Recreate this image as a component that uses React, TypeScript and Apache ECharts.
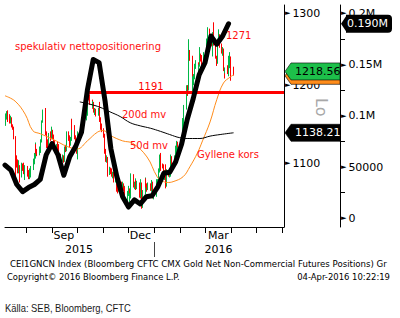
import React, { useEffect, useRef } from 'react';
import * as echarts from 'echarts';

// Gold spot daily OHLC: [date, open, close, low, high]
const candles: [string, number, number, number, number][] = [
  ['2015-07-08', 1154, 1159, 1147, 1163], ['2015-07-09', 1159, 1161, 1155, 1166], ['2015-07-10', 1161, 1157, 1152, 1167],
  ['2015-07-13', 1157, 1155, 1150, 1162], ['2015-07-14', 1155, 1155, 1150, 1160], ['2015-07-15', 1155, 1147, 1145, 1158],
  ['2015-07-16', 1147, 1144, 1142, 1149], ['2015-07-17', 1144, 1132, 1130, 1146], ['2015-07-20', 1132, 1107, 1081, 1134],
  ['2015-07-21', 1107, 1103, 1095, 1110], ['2015-07-22', 1103, 1092, 1088, 1105], ['2015-07-23', 1092, 1093, 1088, 1104],
  ['2015-07-24', 1093, 1085, 1077, 1098], ['2015-07-27', 1085, 1097, 1083, 1101], ['2015-07-28', 1097, 1096, 1091, 1100],
  ['2015-07-29', 1096, 1095, 1087, 1101], ['2015-07-30', 1095, 1088, 1084, 1097], ['2015-07-31', 1088, 1095, 1080, 1098],
  ['2015-08-03', 1095, 1086, 1084, 1097], ['2015-08-04', 1086, 1085, 1081, 1092], ['2015-08-05', 1085, 1086, 1081, 1090],
  ['2015-08-06', 1086, 1090, 1083, 1094], ['2015-08-07', 1090, 1094, 1083, 1097], ['2015-08-10', 1094, 1104, 1092, 1106],
  ['2015-08-11', 1104, 1108, 1099, 1113], ['2015-08-12', 1108, 1123, 1106, 1126], ['2015-08-13', 1123, 1115, 1112, 1124],
  ['2015-08-14', 1115, 1113, 1109, 1118], ['2015-08-17', 1113, 1117, 1110, 1121], ['2015-08-18', 1117, 1117, 1113, 1122],
  ['2015-08-19', 1117, 1127, 1115, 1130], ['2015-08-20', 1127, 1153, 1126, 1154], ['2015-08-21', 1153, 1160, 1151, 1168],
  ['2015-08-24', 1160, 1153, 1150, 1170], ['2015-08-25', 1153, 1138, 1135, 1156], ['2015-08-26', 1138, 1125, 1119, 1140],
  ['2015-08-27', 1125, 1124, 1118, 1130], ['2015-08-28', 1124, 1134, 1122, 1138], ['2015-08-31', 1134, 1132, 1128, 1140],
  ['2015-09-01', 1132, 1140, 1130, 1146], ['2015-09-02', 1140, 1134, 1130, 1142], ['2015-09-03', 1134, 1125, 1122, 1136],
  ['2015-09-04', 1125, 1121, 1117, 1129], ['2015-09-07', 1121, 1121, 1118, 1124], ['2015-09-08', 1121, 1120, 1117, 1127],
  ['2015-09-09', 1120, 1105, 1102, 1124], ['2015-09-10', 1105, 1109, 1098, 1111], ['2015-09-11', 1109, 1104, 1102, 1112],
  ['2015-09-14', 1104, 1108, 1102, 1111], ['2015-09-15', 1108, 1103, 1101, 1110], ['2015-09-16', 1103, 1119, 1102, 1121],
  ['2015-09-17', 1119, 1117, 1114, 1123], ['2015-09-18', 1117, 1137, 1115, 1140], ['2015-09-21', 1137, 1133, 1128, 1140],
  ['2015-09-22', 1133, 1124, 1120, 1135], ['2015-09-23', 1124, 1131, 1122, 1133], ['2015-09-24', 1131, 1153, 1128, 1156],
  ['2015-09-25', 1153, 1145, 1142, 1156], ['2015-09-28', 1145, 1132, 1130, 1148], ['2015-09-29', 1132, 1127, 1124, 1135],
  ['2015-09-30', 1127, 1115, 1112, 1130], ['2015-10-01', 1115, 1113, 1109, 1120], ['2015-10-02', 1113, 1137, 1105, 1140],
  ['2015-10-05', 1137, 1137, 1132, 1141], ['2015-10-06', 1137, 1146, 1134, 1149], ['2015-10-07', 1146, 1146, 1142, 1150],
  ['2015-10-08', 1146, 1143, 1138, 1150], ['2015-10-09', 1143, 1156, 1141, 1160], ['2015-10-12', 1156, 1163, 1154, 1166],
  ['2015-10-13', 1163, 1167, 1160, 1170], ['2015-10-14', 1167, 1187, 1165, 1189], ['2015-10-15', 1187, 1186, 1180, 1191],
  ['2015-10-16', 1186, 1177, 1174, 1188], ['2015-10-19', 1177, 1172, 1169, 1181], ['2015-10-20', 1172, 1176, 1170, 1179],
  ['2015-10-21', 1176, 1166, 1164, 1178], ['2015-10-22', 1166, 1166, 1161, 1170], ['2015-10-23', 1166, 1162, 1159, 1169],
  ['2015-10-26', 1162, 1164, 1160, 1168], ['2015-10-27', 1164, 1167, 1161, 1170], ['2015-10-28', 1167, 1155, 1152, 1178],
  ['2015-10-29', 1155, 1146, 1142, 1158], ['2015-10-30', 1146, 1142, 1139, 1150], ['2015-11-02', 1142, 1135, 1132, 1144],
  ['2015-11-03', 1135, 1115, 1112, 1137], ['2015-11-04', 1115, 1104, 1102, 1118], ['2015-11-05', 1104, 1105, 1101, 1110],
  ['2015-11-06', 1105, 1088, 1084, 1108], ['2015-11-09', 1088, 1093, 1086, 1096], ['2015-11-10', 1093, 1092, 1087, 1095],
  ['2015-11-11', 1092, 1086, 1084, 1094], ['2015-11-12', 1086, 1086, 1082, 1090], ['2015-11-13', 1086, 1081, 1077, 1090],
  ['2015-11-16', 1081, 1086, 1077, 1089], ['2015-11-17', 1086, 1069, 1066, 1087], ['2015-11-18', 1069, 1068, 1064, 1073],
  ['2015-11-19', 1068, 1078, 1066, 1081], ['2015-11-20', 1078, 1076, 1072, 1080], ['2015-11-23', 1076, 1067, 1063, 1078],
  ['2015-11-24', 1067, 1073, 1065, 1078], ['2015-11-25', 1073, 1070, 1067, 1076], ['2015-11-26', 1070, 1071, 1068, 1073],
  ['2015-11-27', 1071, 1056, 1052, 1072], ['2015-11-30', 1056, 1065, 1051, 1067], ['2015-12-01', 1065, 1068, 1061, 1073],
  ['2015-12-02', 1068, 1053, 1050, 1070], ['2015-12-03', 1053, 1062, 1046, 1064], ['2015-12-04', 1062, 1086, 1058, 1088],
  ['2015-12-07', 1086, 1074, 1071, 1087], ['2015-12-08', 1074, 1075, 1069, 1078], ['2015-12-09', 1075, 1076, 1071, 1082],
  ['2015-12-10', 1076, 1071, 1068, 1080], ['2015-12-11', 1071, 1075, 1069, 1079], ['2015-12-14', 1075, 1062, 1059, 1077],
  ['2015-12-15', 1062, 1061, 1058, 1068], ['2015-12-16', 1061, 1076, 1059, 1081], ['2015-12-17', 1076, 1049, 1046, 1077],
  ['2015-12-18', 1049, 1065, 1047, 1068], ['2015-12-21', 1065, 1080, 1063, 1083], ['2015-12-22', 1080, 1075, 1071, 1082],
  ['2015-12-23', 1075, 1069, 1066, 1076], ['2015-12-24', 1069, 1075, 1068, 1077], ['2015-12-28', 1075, 1069, 1067, 1076],
  ['2015-12-29', 1069, 1077, 1066, 1080], ['2015-12-30', 1077, 1060, 1058, 1078], ['2015-12-31', 1060, 1061, 1057, 1064],
  ['2016-01-04', 1061, 1075, 1060, 1081], ['2016-01-05', 1075, 1078, 1071, 1081], ['2016-01-06', 1078, 1092, 1076, 1094],
  ['2016-01-07', 1092, 1108, 1089, 1111], ['2016-01-08', 1108, 1097, 1091, 1113], ['2016-01-11', 1097, 1096, 1094, 1100],
  ['2016-01-12', 1096, 1086, 1084, 1099], ['2016-01-13', 1086, 1087, 1080, 1092], ['2016-01-14', 1087, 1073, 1070, 1099],
  ['2016-01-15', 1073, 1089, 1072, 1093], ['2016-01-18', 1089, 1088, 1084, 1092], ['2016-01-19', 1088, 1089, 1083, 1092],
  ['2016-01-20', 1089, 1106, 1084, 1111], ['2016-01-21', 1106, 1098, 1095, 1109], ['2016-01-22', 1098, 1097, 1093, 1102],
  ['2016-01-25', 1097, 1108, 1095, 1110], ['2016-01-26', 1108, 1120, 1104, 1122], ['2016-01-27', 1120, 1126, 1113, 1128],
  ['2016-01-28', 1126, 1115, 1112, 1127], ['2016-01-29', 1115, 1117, 1108, 1120], ['2016-02-01', 1117, 1128, 1113, 1130],
  ['2016-02-02', 1128, 1128, 1123, 1131], ['2016-02-03', 1128, 1141, 1125, 1147], ['2016-02-04', 1141, 1156, 1139, 1157],
  ['2016-02-05', 1156, 1173, 1146, 1174], ['2016-02-08', 1173, 1197, 1168, 1200], ['2016-02-09', 1197, 1198, 1186, 1200],
  ['2016-02-10', 1198, 1194, 1186, 1200], ['2016-02-11', 1194, 1247, 1193, 1263], ['2016-02-12', 1247, 1239, 1233, 1248],
  ['2016-02-15', 1239, 1208, 1205, 1240], ['2016-02-16', 1208, 1208, 1192, 1212], ['2016-02-17', 1208, 1211, 1200, 1215],
  ['2016-02-18', 1211, 1226, 1208, 1229], ['2016-02-19', 1226, 1230, 1222, 1234], ['2016-02-22', 1230, 1210, 1205, 1231],
  ['2016-02-23', 1210, 1227, 1207, 1228], ['2016-02-24', 1227, 1238, 1225, 1252], ['2016-02-25', 1238, 1236, 1232, 1243],
  ['2016-02-26', 1236, 1222, 1216, 1241], ['2016-02-29', 1222, 1238, 1221, 1245], ['2016-03-01', 1238, 1231, 1227, 1241],
  ['2016-03-02', 1231, 1241, 1229, 1246], ['2016-03-03', 1241, 1262, 1239, 1264], ['2016-03-04', 1262, 1271, 1256, 1280],
  ['2016-03-07', 1271, 1266, 1262, 1278], ['2016-03-08', 1266, 1263, 1255, 1270], ['2016-03-09', 1263, 1257, 1253, 1266],
  ['2016-03-10', 1257, 1272, 1239, 1273], ['2016-03-11', 1272, 1259, 1254, 1287], ['2016-03-14', 1259, 1238, 1236, 1262],
  ['2016-03-15', 1238, 1233, 1226, 1240], ['2016-03-16', 1233, 1263, 1229, 1264], ['2016-03-17', 1263, 1265, 1259, 1277],
  ['2016-03-18', 1265, 1255, 1251, 1270], ['2016-03-21', 1255, 1245, 1243, 1257], ['2016-03-22', 1245, 1248, 1240, 1252],
  ['2016-03-23', 1248, 1221, 1219, 1250], ['2016-03-24', 1221, 1220, 1209, 1223], ['2016-03-25', 1220, 1222, 1216, 1224],
  ['2016-03-28', 1222, 1220, 1215, 1227], ['2016-03-29', 1220, 1236, 1212, 1240], ['2016-03-30', 1236, 1228, 1225, 1240],
  ['2016-03-31', 1228, 1235, 1223, 1245], ['2016-04-01', 1235, 1222, 1206, 1239], ['2016-04-04', 1222, 1218.56, 1213, 1225],
];

// CFTC net non-commercial positions (weekly)
const positionDates = [
  '2015-07-07', '2015-07-14', '2015-07-21', '2015-07-28', '2015-08-04', '2015-08-11', '2015-08-18', '2015-08-25',
  '2015-09-01', '2015-09-08', '2015-09-15', '2015-09-22', '2015-09-29', '2015-10-06', '2015-10-13', '2015-10-20',
  '2015-10-27', '2015-11-03', '2015-11-10', '2015-11-17', '2015-11-24', '2015-12-01', '2015-12-08', '2015-12-15',
  '2015-12-22', '2015-12-29', '2016-01-05', '2016-01-12', '2016-01-19', '2016-01-26', '2016-02-02', '2016-02-09',
  '2016-02-16', '2016-02-23', '2016-03-01', '2016-03-08', '2016-03-15', '2016-03-22', '2016-03-29',
];
const positionValues = [
  52000, 47000, 33000, 26000, 30000, 33000, 38000, 62000,
  73000, 62000, 42000, 60000, 70000, 84000, 125000, 155000,
  152000, 115000, 68000, 41000, 21000, 11000, 18000, 14000,
  21000, 22000, 31000, 44000, 45000, 55000, 72000, 97000,
  117000, 140000, 152000, 178000, 170000, 178000, 190000,
];

// 50-day moving average
const ma50Dates = [
  '2015-07-07', '2015-07-19', '2015-07-31', '2015-08-09', '2015-08-18', '2015-09-02', '2015-09-19', '2015-10-01',
  '2015-10-13', '2015-10-25', '2015-11-01', '2015-11-09', '2015-11-24', '2015-12-06', '2015-12-23', '2016-01-04',
  '2016-01-10', '2016-01-16', '2016-01-23', '2016-02-04', '2016-02-12', '2016-02-21', '2016-02-27', '2016-03-07',
  '2016-03-15', '2016-03-23', '2016-03-31', '2016-04-04',
];
const ma50Values = [
  1186, 1179, 1162, 1141, 1137, 1130, 1121, 1118,
  1128, 1139, 1141, 1135, 1128, 1125, 1108, 1084,
  1079, 1077, 1078, 1084, 1096, 1113, 1128, 1152,
  1181, 1203, 1211, 1214,
];

// 200-day moving average
const ma200Dates = [
  '2015-10-04', '2015-10-16', '2015-10-28', '2015-11-09', '2015-11-21', '2015-12-03', '2015-12-15', '2015-12-27',
  '2016-01-08', '2016-01-19', '2016-01-31', '2016-02-12', '2016-02-24', '2016-03-07', '2016-03-19', '2016-04-04',
];
const ma200Values = [
  1178, 1175, 1171, 1165, 1159, 1151, 1147, 1144,
  1140, 1136, 1132, 1131, 1131, 1134, 1136, 1138.21,
];

const priceTicks = [1100, 1200, 1300];
const positionTicks = [0, 50000, 100000, 150000, 200000];
const positionMinorTicks = [25000, 75000, 125000, 175000];
const monthTickDates = [
  '2015-08-01', '2015-09-01', '2015-10-01', '2015-11-01', '2015-12-01', '2016-01-01',
  '2016-02-01', '2016-03-01', '2016-04-01', '2016-05-01', '2016-06-01',
];
const monthLabelDates = ['2015-09-15', '2015-12-15', '2016-03-17'];
const monthLabelTexts = ['Sep', 'Dec', 'Mar'];
const yearLabelDates = ['2015-10-03', '2016-03-17'];
const yearLabelTexts = ['2015', '2016'];
const yearBoundaryDates = ['2016-01-01'];
const resistanceLevel = 1191;
const resistanceStart = '2015-10-14';
const xStart = '2015-07-07';
const xEnd = '2016-06-03';
const priceMin = 1025;
const priceMax = 1312;
const positionMin = -8500;
const positionMax = 208300;

const t = (s: string) => {
  const [y, m, d] = s.split('-').map(Number);
  return Date.UTC(y, m - 1, d);
};

const FONT = '"DejaVu Sans", Verdana, sans-serif';

const fmtPos = (v: number) => (v === 0 ? '0' : v >= 100000 ? v / 1e6 + 'M' : String(v));

const measure = (text: string, font: string) => {
  const ctx = document.createElement('canvas').getContext('2d')!;
  ctx.font = font;
  return ctx.measureText(text).width || 1;
};

export default function App() {
  const ref = useRef<HTMLDivElement>(null);
  useEffect(() => {
    document.body.style.margin = '0';
    const chart = echarts.init(ref.current!, null, { renderer: 'svg' });
    const monthTicks = monthTickDates.map(t);
    const monthLabels = monthLabelDates.map(t);
    const yearLabels = yearLabelDates.map(t);
    const option: any = {
      animation: false,
      backgroundColor: '#fff',
      grid: { left: 5, right: 116, top: 5, bottom: 91, outerBoundsMode: 'none' },
      xAxis: [
        {
          type: 'value', min: t(xStart), max: t(xEnd), position: 'bottom', scale: true,
          axisLine: { show: true, onZero: false, lineStyle: { color: '#000', width: 1 } },
          axisTick: { show: true, customValues: monthTicks, length: 6, lineStyle: { color: '#000' } },
          axisLabel: {
            show: true, customValues: monthLabels, margin: 3, color: '#000', fontSize: 11, fontFamily: FONT,
            formatter: (v: number) => monthLabelTexts[monthLabels.indexOf(v)] ?? '',
          },
          splitLine: { show: false },
        },
        {
          type: 'value', min: t(xStart), max: t(xEnd), position: 'bottom', offset: 15, scale: true,
          axisLine: { show: false, onZero: false },
          axisTick: { show: true, customValues: yearBoundaryDates.map(t), length: 15, lineStyle: { color: '#444' } },
          axisLabel: {
            show: true, customValues: yearLabels, margin: 2, color: '#000', fontSize: 11, fontFamily: FONT,
            formatter: (v: number) => yearLabelTexts[yearLabels.indexOf(v)] ?? '',
          },
          splitLine: { show: false },
        },
      ],
      yAxis: [
        {
          type: 'log', logBase: 10, min: priceMin, max: priceMax, position: 'right',
          axisLine: { show: true, lineStyle: { color: '#000', width: 1 } },
          axisTick: { show: false },
          splitLine: { show: false },
          axisLabel: {
            show: true, customValues: priceTicks, margin: 1, color: '#000', fontSize: 11, fontFamily: FONT,
            formatter: (v: number) => '{a|►}' + v,
            rich: { a: { fontSize: 7, color: '#000', fontFamily: FONT, padding: [0, 2, 0, 0] } },
          },
        },
        {
          type: 'value', min: positionMin, max: positionMax, position: 'right', offset: 56,
          axisLine: { show: true, onZero: false, lineStyle: { color: '#000', width: 1 } },
          axisTick: { show: true, customValues: positionMinorTicks, length: 5, lineStyle: { color: '#000' } },
          splitLine: { show: false },
          axisLabel: {
            show: true, customValues: positionTicks, margin: 1, color: '#000', fontSize: 11, fontFamily: FONT,
            formatter: (v: number) => '{a|►}' + fmtPos(v),
            rich: { a: { fontSize: 7, color: '#000', fontFamily: FONT, padding: [0, 2, 0, 0] } },
          },
        },
      ],
      series: [
        {
          type: 'candlestick', xAxisIndex: 0, yAxisIndex: 0, barWidth: 1, z: 2,
          data: candles.map(([d, o, c, l, h]) => [t(d), o, c, l, h]),
          itemStyle: { color: '#00b846', color0: '#ff0000', borderColor: '#00b846', borderColor0: '#ff0000', borderWidth: 1 },
        },
        {
          type: 'line', xAxisIndex: 0, yAxisIndex: 0, symbol: 'none', smooth: 0.4, z: 3,
          data: ma50Dates.map((d, i) => [t(d), ma50Values[i]]),
          lineStyle: { color: '#ff8c1a', width: 1 },
          markLine: {
            silent: true, symbol: 'none', z: 4,
            lineStyle: { color: '#ff0000', width: 3, type: 'solid' },
            label: {
              show: true, position: 'insideStartTop', distance: [50, 1], color: '#ff0000', fontSize: 10, fontFamily: FONT,
              formatter: () => String(resistanceLevel),
            },
            data: [[{ coord: [t(resistanceStart), resistanceLevel] }, { coord: [t(xEnd), resistanceLevel] }]],
          },
        },
        {
          type: 'line', xAxisIndex: 0, yAxisIndex: 0, symbol: 'none', smooth: 0.4, z: 3,
          data: ma200Dates.map((d, i) => [t(d), ma200Values[i]]),
          lineStyle: { color: '#000', width: 1 },
        },
        {
          type: 'line', xAxisIndex: 0, yAxisIndex: 1, symbol: 'none', z: 5,
          data: positionDates.map((d, i) => [t(d), positionValues[i]]),
          lineStyle: { color: '#000', width: 5, join: 'round', cap: 'round' },
        },
      ],
    };
    chart.setOption(option);

    const lastPrice = candles[candles.length - 1][2];
    const last50 = ma50Values[ma50Values.length - 1];
    const last200 = ma200Values[ma200Values.length - 1];
    const lastPos = positionValues[positionValues.length - 1];
    const yPrice = chart.convertToPixel({ yAxisIndex: 0 }, lastPrice) as number;
    const y50 = chart.convertToPixel({ yAxisIndex: 0 }, last50) as number;
    const y200 = chart.convertToPixel({ yAxisIndex: 0 }, last200) as number;
    const yPos = chart.convertToPixel({ yAxisIndex: 1 }, lastPos) as number;
    const ax1 = chart.convertToPixel({ xAxisIndex: 0 }, t(xEnd)) as number; // price axis line
    const ax2 = ax1 + 56; // positions axis line

    const tag = (x0: number, x1: number, yc: number, h: number, fill: string, text: string | null, color: string, z: number) => ({
      type: 'group', z,
      children: [
        {
          type: 'polygon', z,
          shape: { points: [[x0, yc], [x0 + 6, yc - h / 2], [x1, yc - h / 2], [x1, yc + h / 2], [x0 + 6, yc + h / 2]] },
          style: { fill, stroke: '#000', lineWidth: 0.6 },
        },
        ...(text
          ? [{ type: 'text', z: z + 1, x: x0 + 10, y: yc, style: { text, fill: color, font: `11px ${FONT}`, verticalAlign: 'middle' } }]
          : []),
      ],
    });

    const redText = (text: string, x: number, y: number) => ({
      type: 'text', x, y, z: 20,
      style: { text, fill: '#ff1010', font: `10px ${FONT}`, verticalAlign: 'middle' },
    });

    // fitted text: scaled horizontally to span a given width
    const fitText = (text: string, x: number, y: number, width: number, font: string, align: 'left' | 'right' = 'left', fill = '#000') => ({
      type: 'text', x, y, z: 10, scaleX: width / measure(text, font),
      style: { text, fill, font, align, verticalAlign: 'middle' },
    });

    const footFont = `9px ${FONT}`;

    chart.setOption({
      graphic: [
        redText('spekulativ nettopositionering', 15, 46),
        redText('1271', 226, 35),
        redText('200d mv', 122, 114),
        redText('50d mv', 130, 145),
        redText('Gyllene kors', 197, 154),
        {
          type: 'text', x: 329, y: 98, rotation: -Math.PI / 2, z: 30,
          style: { text: 'Lo', fill: '#a8a8a8', font: `16px ${FONT}` },
        },
        tag(ax1 + 1, ax2, y50 + 1, 17, '#ff8c1a', null, '#000', 40),
        tag(ax1 + 1, ax2, yPrice, 17, '#1dbf4a', lastPrice.toFixed(2), '#000', 42),
        tag(ax1 + 1, ax2, y200, 17, '#000', last200.toFixed(2), '#fff', 44),
        {
          type: 'group', z: 46,
          children: [
            { type: 'polygon', z: 46, shape: { points: [[ax2 + 1, yPos], [ax2 + 7, yPos - 9], [ax2 + 7, yPos + 9]] }, style: { fill: '#000' } },
            { type: 'rect', z: 46, shape: { x: ax2 + 6, y: yPos - 9, width: 46, height: 18, r: [0, 4, 4, 0] }, style: { fill: '#000' } },
            {
              type: 'text', z: 47, x: ax2 + 7, y: yPos,
              style: { text: (lastPos / 1e6).toFixed(3) + 'M', fill: '#fff', font: `11px ${FONT}`, verticalAlign: 'middle' },
            },
          ],
        },
        fitText('CEI1GNCN Index (Bloomberg CFTC CMX Gold Net Non-Commercial Futures Positions) Gr', 10, 264, 377, footFont),
        fitText('Copyright© 2016 Bloomberg Finance L.P.', 7, 277, 173, footFont),
        fitText('04-Apr-2016 10:22:19', 390, 277, 93, footFont, 'right'),
        fitText('Källa: SEB, Bloomberg, CFTC', 5, 308, 126, '11px "Liberation Sans", sans-serif', 'left', '#1a1a1a'),
      ],
    });

    return () => chart.dispose();
  }, []);
  return <div ref={ref} style={{ width: 400, height: 318 }} />;
}
